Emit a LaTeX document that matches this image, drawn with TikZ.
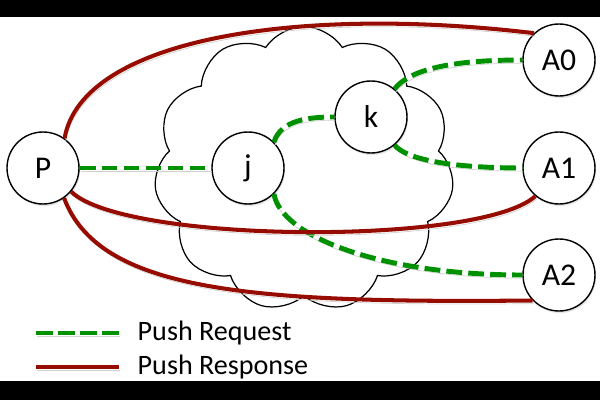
\documentclass[tikz,border=0pt]{standalone}
\usepackage{fontspec}
\setmainfont{Carlito}
\usetikzlibrary{positioning,shapes.symbols,shadows}
\definecolor{reqgreen}{RGB}{0,145,0}
\definecolor{respred}{RGB}{150,12,0}

\begin{document}
\begin{tikzpicture}[
	peer/.style={draw,circle,fill=white,line width=0.8pt,minimum size=1.44cm,inner sep=0pt,
		font=\fontsize{18}{20}\selectfont,
		drop shadow={opacity=0.2,shadow xshift=0.6pt,shadow yshift=-1.2pt}},
	req/.style={draw=reqgreen,line width=2.8pt,dash pattern=on 9pt off 3.5pt,
		preaction={draw=black!18,transform canvas={shift={(0.6pt,-1.8pt)}}}},
	resp/.style={draw=respred,line width=2.3pt,
		preaction={draw=black!18,transform canvas={shift={(0.6pt,-1.8pt)}}}},
	legend/.style={font=\fontsize{16}{18}\selectfont}]
		\useasboundingbox (0,0) rectangle (12,-8);
		\fill[black] (0,0) rectangle (12,-0.35);
		\fill[black] (0,-7.63) rectangle (12,-8);
		
		\node[draw,cloud,cloud puffs=11,cloud puff arc=115,aspect=1,
			minimum width=6cm,minimum height=5.7cm,line width=0.7pt] (net) at (6.08,-3.38) {};
		
		\node[peer] (p) at (0.86,-3.36) {P};
		\node[peer,on grid,right=4.1cm of p] (j) {j};
		\node[peer,on grid,above right=1.02cm and 2.46cm of j] (k) {k};
		\node[peer,on grid,right=6.22cm of j] (a1) {A1};
		\node[peer,on grid,above=2.16cm of a1] (a0) {A0};
		\node[peer,on grid,below=2.14cm of a1] (a2) {A2};
		
		% requests
		\draw[req] (p) -- (j);
		\draw[req] (j.45) .. controls +(0.14,0.44) and +(-0.52,0) .. (k.west);
		\draw[req] (k.50) .. controls +(0.3,0.38) and +(-1.46,0) .. (a0.west);
		\draw[req] (k.-50) .. controls +(0.26,-0.32) and +(-1.26,0) .. (a1.west);
		\draw[req] (j.-45) .. controls +(0.14,-0.84) and +(-2.86,0) .. (a2.west);
		
		% responses
		\draw[resp] (p.54) .. controls +(0.35,2.0) and +(-4.7,0.56) .. (a0.133);
		\draw[resp] (p.-40) .. controls +(1.06,-1.04) and +(-1.1,-1.0) .. (a1.230);
		\draw[resp] (p.-55) .. controls +(0.7,-1.86) and +(-5.7,-0.06) .. (a2.224);
		
		% legend
		\coordinate (reqa) at (0.72,-6.66);
		\coordinate (reqb) at (2.38,-6.66);
		\node[legend,right=0.25cm of reqb] (reqtxt) {Push Request};
		\draw[req,dash pattern=on 9.5pt off 3pt] (reqa) -- (reqb);
		
		\coordinate (respa) at (0.72,-7.34);
		\coordinate (respb) at (2.38,-7.34);
		\node[legend,right=0.25cm of respb] (resptxt) {Push Response};
		\draw[resp] (respa) -- (respb);
	\end{tikzpicture}
\end{document}
